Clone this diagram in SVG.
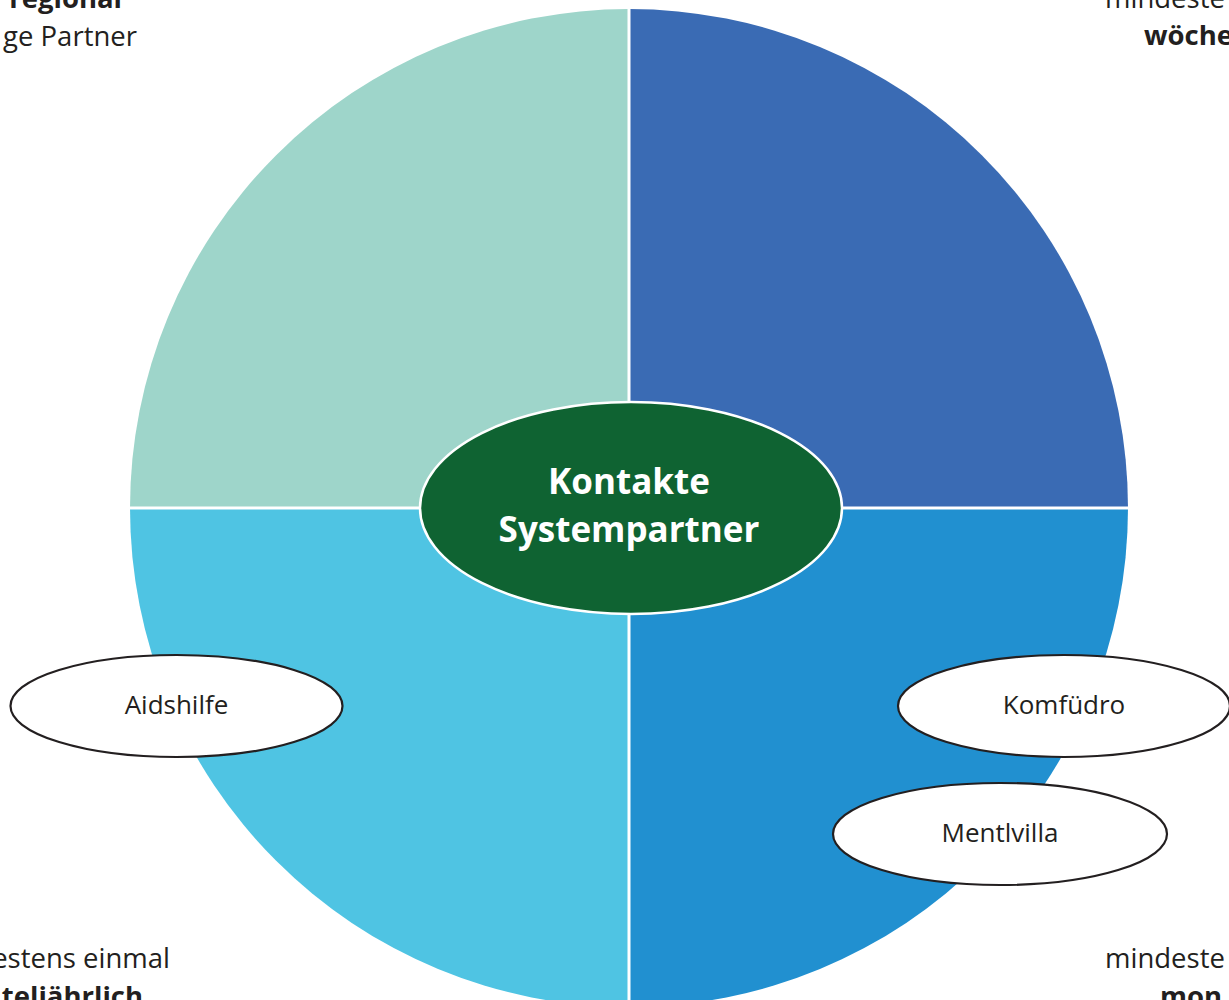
<svg xmlns="http://www.w3.org/2000/svg" width="1229" height="1000" viewBox="0 0 1229 1000">
<style>
.lbl{font-family:"Open Sans","Noto Sans","Liberation Sans",sans-serif;fill:#231F20;font-size:26px}
.corner{font-family:"Open Sans","Noto Sans","Liberation Sans",sans-serif;fill:#231F20;font-size:27.5px}
.b{font-weight:bold}
.small{fill:#FFFFFF;stroke:#231F20;stroke-width:2.2}
.ctr{font-family:"Open Sans","Noto Sans","Liberation Sans",sans-serif;fill:#FFFFFF;font-size:35px;font-weight:bold}
</style>
<rect width="1229" height="1000" fill="#FFFFFF"/>
<g id="quadrants">
<path d="M629,508 L130,508 A499,499 0 0 1 629,9 Z" fill="#9ED5CA"/>
<path d="M629,508 L629,9 A499,499 0 0 1 1128,508 Z" fill="#3A6BB4"/>
<path d="M629,508 L1128,508 A499,499 0 0 1 629,1007 Z" fill="#2190D0"/>
<path d="M629,508 L629,1007 A499,499 0 0 1 130,508 Z" fill="#4FC4E3"/>
<line x1="629" y1="0" x2="629" y2="1000" stroke="#FFFFFF" stroke-width="3"/>
<line x1="120" y1="508" x2="1140" y2="508" stroke="#FFFFFF" stroke-width="3"/>
</g>
<g id="center">
<ellipse cx="631" cy="508" rx="211" ry="106" fill="#0F6332" stroke="#FFFFFF" stroke-width="2.5"/>
<text class="ctr" x="629" y="494" text-anchor="middle">Kontakte</text>
<text class="ctr" x="629" y="542" text-anchor="middle">Systempartner</text>
</g>
<g id="aidshilfe">
<ellipse class="small" cx="176.5" cy="706" rx="166" ry="51"/>
<text class="lbl" x="176.5" y="714" text-anchor="middle">Aidshilfe</text>
</g>
<g id="komfuedro">
<ellipse class="small" cx="1064" cy="706" rx="166" ry="51"/>
<text class="lbl" x="1064" y="714" text-anchor="middle">Komfüdro</text>
</g>
<g id="mentlvilla">
<ellipse class="small" cx="1000" cy="834" rx="167" ry="51"/>
<text class="lbl" x="1000" y="842" text-anchor="middle">Mentlvilla</text>
</g>
<g id="corner-texts">
<text class="corner b" x="122" y="8" text-anchor="end">regional</text>
<text class="corner" x="137" y="46" text-anchor="end">ge Partner</text>
<text class="corner" x="1105" y="8">mindeste</text>
<text class="corner b" x="1144" y="45">wöche</text>
<text class="corner" x="170" y="968" text-anchor="end">estens einmal</text>
<text class="corner b" x="143" y="1006" text-anchor="end">teljährlich</text>
<text class="corner" x="1105" y="968">mindeste</text>
<text class="corner b" x="1160" y="1006">mon</text>
</g>
</svg>
